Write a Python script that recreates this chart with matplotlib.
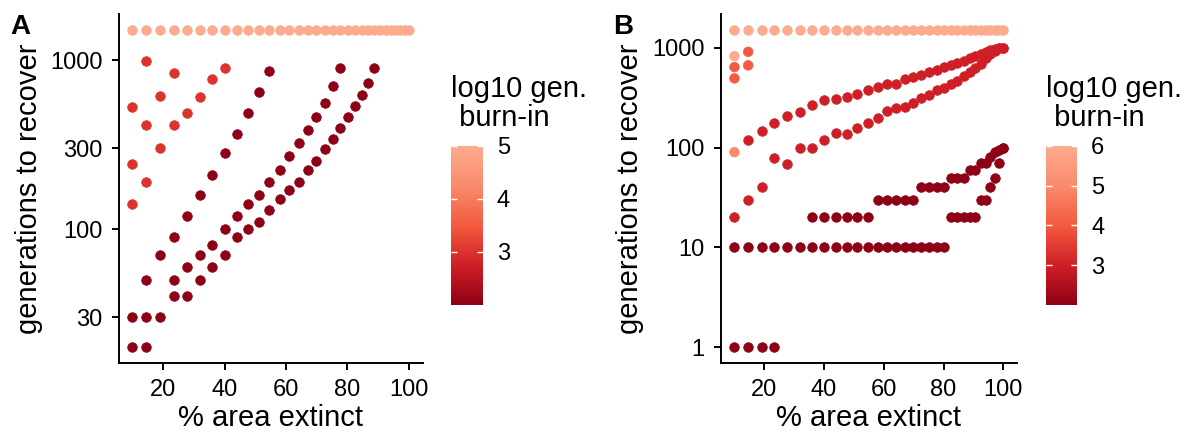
import numpy as np
import matplotlib
matplotlib.use("Agg")
import matplotlib.pyplot as plt
from matplotlib.colors import LinearSegmentedColormap, Normalize
from matplotlib.cm import ScalarMappable
from matplotlib.ticker import NullLocator

plt.rcParams['font.family'] = ['Liberation Sans', 'DejaVu Sans']

# ---------------- data ----------------
# % area extinct grid (shared by both panels)
X = [10.0, 14.6, 19.1, 23.4, 27.7, 31.9, 36.0, 40.0, 43.9, 47.6, 51.1, 54.6,
     57.9, 61.1, 64.1, 67.0, 69.9, 72.6, 75.2, 77.7, 80.1, 82.4, 84.6, 86.7,
     88.7, 90.6, 92.4, 94.1, 95.7, 97.2, 98.7, 100.0]

# Panel A  (series: start index into X, y values, log10 burn-in)
A_top = [1500, 1500, 1500, 1500, 1500, 1500, 1500, 1500, 1500, 1500, 1500, 1500,
         1500, 1500, 1500, 1500, 1500, 1500, 1500, 1500, 1500, 1500, 1500, 1500,
         1500, 1500, 1500, 1500, 1500, 1500, 1500, 1500]
A_red1 = [140, 190, 302, 412, 484, 607, 770, 897]          # starts idx 0
A_red2 = [241, 412, 612, 841]                              # starts idx 0
A_red3 = [525, 990]                                        # starts idx 0
A_dark1 = [50, 70, 90, 120, 160, 210, 280, 363, 484, 646, 861]   # starts idx 1
A_dark2 = [30, 30, 30, 50, 60, 70, 80, 100, 120, 140, 160, 190, 224, 271,
           321, 385, 462, 555, 701, 901]                   # starts idx 0
A_dark3 = [20, 20, np.nan, 40, 40, 50, 60, 70, 90, 100, 110, 130, 150, 170,
           190, 224, 252, 296, 339, 394, 458, 534, 621, 728, 901]  # starts idx 0

# Panel B
B_top = [1500, 1500, 1500, 1500, 1500, 1500, 1500, 1500, 1500, 1500, 1500, 1500,
         1500, 1500, 1500, 1500, 1500, 1500, 1500, 1500, 1500, 1500, 1500, 1500,
         1500, 1500, 1500, 1500, 1500, 1500, 1500, 1500]
B_curve_up = [119, 147, 177, 209, 229, 267, 298, 307, 324, 347, 375, 407, 437,
              437, 490, 509, 537, 567, 594, 641, 671, 703, 736, 783, 826, 871,
              912, 940, 970, 990, 1000]                    # starts idx 1
B_curve_lo = [20, 30, 40, 79, 69, 100, 100, 120, 140, 138, 158, 178, 200, 233,
              251, 255, 278, 316, 334, 378, 398, 430, 464, 521, 575, 631, 692,
              783, 858, 927, 986, 1000]                    # starts idx 0
B_dark_lo = [1, 1, 1, 1, 10, 10, 10, 10, 10, 10, 10, 10, 10, 10, 10, 10, 10,
             10, 10, 10, 10, 20, 20, 20, 20, 20, 30, 30, 40, 50, 70, 100]
B_dark_up = [10, 10, 10, 10, np.nan, np.nan, 20, 20, 20, 20, 20, 20, 30, 30,
             30, 30, 30, 40, 40, 40, 40, 50, 50, 50, 60, 60, 70, 70, 80, 90,
             95, 100]
B_extra_idx = [0, 0, 0, 0, 1, 1]
B_extra_y = [826, 641, 494, 90, 912, 667]
B_extra_c = [6, 4, 4, 5, 4, 4]

A_series = [(A_top, 0, 5), (A_red1, 0, 3), (A_red2, 0, 3), (A_red3, 0, 3),
            (A_dark1, 1, 2), (A_dark2, 0, 2), (A_dark3, 0, 2)]
B_series = [(B_top, 0, 6), (B_curve_up, 1, 3), (B_curve_lo, 0, 3),
            (B_dark_lo, 0, 2), (B_dark_up, 0, 2)]

A_yticks = [30, 100, 300, 1000]
B_yticks = [1, 10, 100, 1000]
xticks = [20, 40, 60, 80, 100]

# ---------------- style ----------------
cmap = LinearSegmentedColormap.from_list(
    'reds', [(0.0, '#8E0016'), (0.25, '#CF1F26'), (0.5, '#F35A3F'),
             (0.75, '#FA8B6C'), (1.0, '#FCAB8F')])

W, H = 1185, 434
fig = plt.figure(figsize=(W / 100, H / 100), dpi=100)
TOP, BOT = 14.4, 363.0
MS = 48


def rect(l, r, t, b):
    return [l / W, 1 - b / H, (r - l) / W, (b - t) / H]


def draw_panel(ax, series, extra, vmin, vmax, yticks, ylabel_x):
    norm = Normalize(vmin, vmax)
    allx, ally = [], []
    for ys, start, val in series:
        xs = X[start:start + len(ys)]
        col = cmap(norm(val))
        ax.scatter(xs, ys, s=MS, color=col, edgecolors=col, linewidths=0.5,
                   zorder=3, clip_on=False)
        allx += list(xs)
        ally += [v for v in ys if not np.isnan(v)]
    if extra is not None:
        idx, ys, vals = extra
        xs = [X[i] for i in idx]
        cols = [cmap(norm(v)) for v in vals]
        ax.scatter(xs, ys, s=MS, color=cols, edgecolors=cols, linewidths=0.5,
                   zorder=4, clip_on=False)
        ally += list(ys)
    ax.set_yscale('log')
    # ggplot-like 5% expansion
    x0, x1 = min(allx), max(allx)
    dx = (x1 - x0) * 0.05
    ax.set_xlim(x0 - dx, x1 + dx)
    l0, l1 = np.log10(min(ally)), np.log10(max(ally))
    dl = (l1 - l0) * 0.05
    ax.set_ylim(10 ** (l0 - dl), 10 ** (l1 + dl))
    ax.set_yticks(yticks)
    ax.set_yticklabels([str(t) for t in yticks])
    ax.yaxis.set_minor_locator(NullLocator())
    ax.set_xticks(xticks)
    ax.set_xticklabels([str(t) for t in xticks])
    for s in ['top', 'right']:
        ax.spines[s].set_visible(False)
    for s in ['left', 'bottom']:
        ax.spines[s].set_linewidth(1.4)
        ax.spines[s].set_color('black')
    ax.tick_params(axis='both', which='major', length=4.7, width=1.4,
                   color='black', labelsize=17, labelcolor='black', pad=7)
    ax.set_xlabel('% area extinct', fontsize=21)
    ax.set_ylabel('generations to recover', fontsize=21)
    ax.xaxis.set_label_coords(0.5, -0.118)
    ax.yaxis.set_label_coords(ylabel_x, 0.5)
    ax.patch.set_alpha(0)


def draw_cbar(cax, vmin, vmax, ticks, title_x):
    sm = ScalarMappable(norm=Normalize(vmin, vmax), cmap=cmap)
    cb = fig.colorbar(sm, cax=cax)
    cb.outline.set_visible(False)
    cb.set_ticks(ticks)
    cb.set_ticklabels([str(t) for t in ticks])
    cax.yaxis.set_ticks_position('both')
    cax.tick_params(direction='in', length=4.5, width=1.0, color='white',
                    labelsize=17, labelleft=False, labelright=True, pad=10)
    fig.text(title_x / W, 1 - 75 / H, 'log10 gen.\n burn-in', fontsize=21,
             ha='left', va='top', linespacing=1.05)


axA = fig.add_axes(rect(118.5, 422.8, TOP, BOT))
draw_panel(axA, A_series, None, 2, 5, A_yticks, -0.248)
axB = fig.add_axes(rect(721.0, 1016.7, TOP, BOT))
draw_panel(axB, B_series, (B_extra_idx, B_extra_y, B_extra_c), 2, 6,
           B_yticks, -0.26)

caxA = fig.add_axes(rect(451.0, 483.0, 145.7, 305.0))
draw_cbar(caxA, 2, 5, [3, 4, 5], 451.0)
caxB = fig.add_axes(rect(1045.7, 1077.3, 145.7, 305.0))
draw_cbar(caxB, 2, 6, [3, 4, 5, 6], 1045.7)

fig.text(10 / W, 1 - 14 / H, 'A', fontsize=20, fontweight='bold',
         ha='left', va='top')
fig.text(613 / W, 1 - 14 / H, 'B', fontsize=20, fontweight='bold',
         ha='left', va='top')

fig.savefig('out.png', dpi=100)
